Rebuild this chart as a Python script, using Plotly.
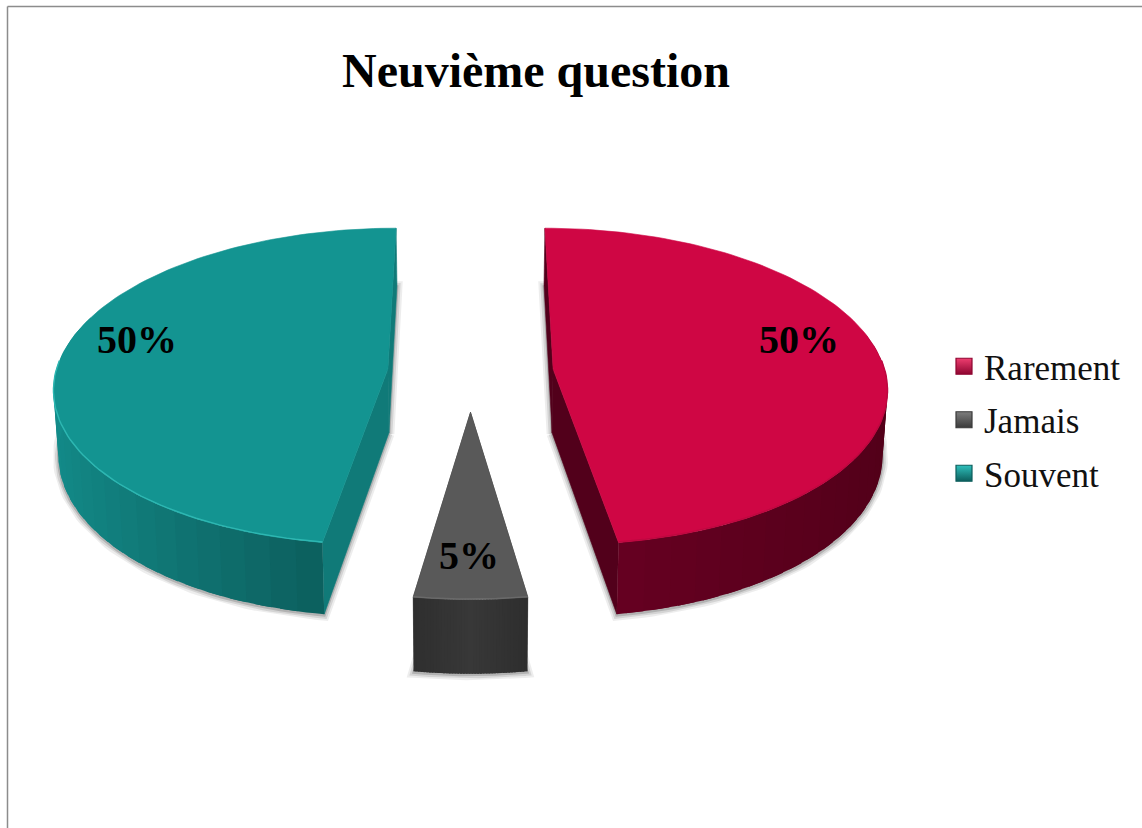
import math
import numpy as np
import plotly.graph_objects as go

# ---- data ----
categories = ["Rarement", "Jamais", "Souvent"]
values = [50, 5, 50]
value_labels = ["50%", "5%", "50%"]
title_text = "Neuvième question"

# ---- style ----
top_colors = ["#CF0644", "#595959", "#139491"]
rim_colors = ["#BE0840", "#6A6A6A", "#2DB7B2"]
wall_from = [(0x52, 0x00, 0x19), (0x38, 0x38, 0x38), (0x13, 0x8C, 0x8A)]
wall_to = [(0x68, 0x00, 0x22), (0x2E, 0x2E, 0x2E), (0x0C, 0x5E, 0x5D)]
side_colors = ["#52001B", "#333333", "#107A78"]
legend_light = ["#EE3E70", "#7E7E7E", "#2FC0BC"]
legend_dark = ["#8E0530", "#3A3A3A", "#0C5E5C"]
SERIF = "Liberation Serif, Times New Roman, serif"

# ---- view of the pie (a tilted disc seen in perspective) ----
CX, CY, A, B, K, EXPLODE, DEPTH, SHRINK = 470.5, 372, 332, 157, 0.11, 0.25, 64, 0.988


def project(X, Y, low=False):
    X, Y = np.asarray(X, float), np.asarray(Y, float)
    den = 1 + K * Y
    x = A * X / den
    y = -B * Y / den
    if low:
        x = x * SHRINK
        y = y + DEPTH / den
    return CX + x, CY + y


def poly(x, y, color, width=0.6):
    return go.Scatter(x=np.r_[x, x[0]], y=np.r_[y, y[0]], mode="lines", fill="toself",
                      fillcolor=color, line=dict(color=color, width=width),
                      hoverinfo="skip", showlegend=False)


total = sum(values)
fig = go.Figure()
start = 0.0
slices = []
for v in values:
    sweep = 2 * math.pi * v / total
    slices.append((start, start + sweep))
    start += sweep

tops = []
for a0, a1 in slices:
    mid = (a0 + a1) / 2
    ox, oy = EXPLODE * math.sin(mid), EXPLODE * math.cos(mid)
    th = np.linspace(a0, a1, 121)
    tops.append(((ox, oy), th, ox + np.sin(th), oy + np.cos(th)))

# soft shadows under each slice
for (ox, oy), th, rx, ry in tops:
    x, y = project(np.r_[ox, rx], np.r_[oy, ry], low=True)
    for w, alpha in ((11, 0.07), (7, 0.10), (3, 0.16)):
        fig.add_trace(go.Scatter(x=np.r_[x, x[0]], y=np.r_[y, y[0]] + 1, mode="lines",
                                 line=dict(color=f"rgba(0,0,0,{alpha})", width=w),
                                 hoverinfo="skip", showlegend=False))

# walls
for i, ((ox, oy), th, rx, ry) in enumerate(tops):
    # radial side faces
    for j in (0, -1):
        xa, ya = project([ox, rx[j]], [oy, ry[j]])
        xb, yb = project([ox, rx[j]], [oy, ry[j]], low=True)
        fig.add_trace(poly(np.r_[xa, xb[::-1]], np.r_[ya, yb[::-1]], side_colors[i]))
    # curved outer wall, shaded in overlapping strips with no outline
    step = 3
    vis = [n for n in range(0, len(th) - 1, step) if math.cos(th[n]) < 0.25]
    for n in vis:
        if i == 1:
            t = abs(th[n] - math.pi) / (th[-1] - math.pi)
        else:
            t = min(1.0, abs(abs(math.sin(th[n])) - 1) / 0.9)
        c = [round(p + (q - p) * t) for p, q in zip(wall_from[i], wall_to[i])]
        col = f"rgb({c[0]},{c[1]},{c[2]})"
        idx = list(range(n, min(n + step + 3, len(th))))
        xa, ya = project(rx[idx], ry[idx])
        xb, yb = project(rx[idx], ry[idx], low=True)
        fig.add_trace(poly(np.r_[xa, xb[::-1]], np.r_[ya, yb[::-1]], col, width=0))

# top faces and rim highlights
for i, ((ox, oy), th, rx, ry) in enumerate(tops):
    x, y = project(np.r_[ox, rx], np.r_[oy, ry])
    fig.add_trace(poly(x, y, top_colors[i]))
    front = np.cos(th) < 0.05
    xr, yr = project(rx[front], ry[front])
    fig.add_trace(go.Scatter(x=xr, y=yr - 0.5, mode="lines", line=dict(color=rim_colors[i], width=1.4),
                             hoverinfo="skip", showlegend=False))

# value labels
label_x = [799, 469, 137]
label_y = [343, 559, 343]
fig.add_trace(go.Scatter(x=label_x, y=label_y, mode="text",
                         text=[f"<b>{t}</b>" for t in value_labels],
                         textfont=dict(family=SERIF, size=40, color="black"),
                         textposition="middle center", hoverinfo="skip", showlegend=False))

# legend entries
for name, color, light, dark in zip(categories, top_colors, legend_light, legend_dark):
    fig.add_trace(go.Scatter(x=[None], y=[None], mode="markers", name=name, legendgroup=name,
                             marker=dict(symbol="square", size=17, color=light,
                                         gradient=dict(type="vertical", color=dark),
                                         line=dict(color=dark, width=1.2))))

fig.update_layout(
    width=1142, height=828, margin=dict(l=0, r=0, t=0, b=0, autoexpand=False),
    paper_bgcolor="white", plot_bgcolor="white",
    xaxis=dict(range=[0, 1142], visible=False, fixedrange=True),
    yaxis=dict(range=[828, 0], visible=False, fixedrange=True),
    title=dict(text=f"<b>{title_text}</b>", x=536 / 1142, xanchor="center", y=1 - 70 / 828, yanchor="middle",
               font=dict(family=SERIF, size=48, color="black")),
    legend=dict(x=944 / 1142, xanchor="left", y=1 - 337 / 828, yanchor="top", tracegroupgap=5,
                font=dict(family=SERIF, size=35, color="#111111"), bgcolor="rgba(0,0,0,0)",
                itemclick=False, itemdoubleclick=False),
    shapes=[
        dict(type="line", xref="x", yref="y", x0=7.5, x1=7.5, y0=6.5, y1=828, line=dict(color="#8C8C8C", width=1.5)),
        dict(type="line", xref="x", yref="y", x0=7.5, x1=1142, y0=6.5, y1=6.5, line=dict(color="#8C8C8C", width=1.5)),
    ],
)
fig.write_html("out.html", post_script="document.body.style.margin='0';document.body.style.overflow='hidden';",
               config={"displayModeBar": False})
